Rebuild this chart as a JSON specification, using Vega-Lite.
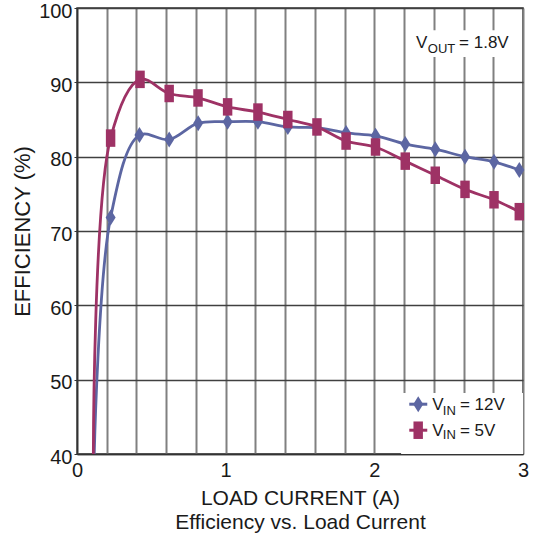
{
  "$schema": "https://vega.github.io/schema/vega-lite/v6.json",
  "width": 446,
  "height": 446,
  "autosize": {"type": "none"},
  "padding": {"left": 77, "top": 8, "right": 13, "bottom": 83},
  "background": "white",
  "config": {
    "view": {"stroke": "#333333", "strokeWidth": 1.5},
    "font": "Liberation Sans"
  },
  "datasets": {
    "eff": [
      {"series": "12V", "current": 0.116, "eff": 40},
      {"series": "12V", "current": 0.226, "eff": 71.8},
      {"series": "12V", "current": 0.42, "eff": 82.9},
      {"series": "12V", "current": 0.62, "eff": 82.3},
      {"series": "12V", "current": 0.815, "eff": 84.5},
      {"series": "12V", "current": 1.013, "eff": 84.7},
      {"series": "12V", "current": 1.217, "eff": 84.7},
      {"series": "12V", "current": 1.418, "eff": 84.0},
      {"series": "12V", "current": 1.614, "eff": 83.9},
      {"series": "12V", "current": 1.81, "eff": 83.2},
      {"series": "12V", "current": 2.008, "eff": 82.8},
      {"series": "12V", "current": 2.208, "eff": 81.7},
      {"series": "12V", "current": 2.41, "eff": 81.0},
      {"series": "12V", "current": 2.61, "eff": 80.0},
      {"series": "12V", "current": 2.805, "eff": 79.3},
      {"series": "12V", "current": 2.975, "eff": 78.2},
      {"series": "5V", "current": 0.11, "eff": 40},
      {"series": "5V", "current": 0.226, "eff": 82.5},
      {"series": "5V", "current": 0.424, "eff": 90.4},
      {"series": "5V", "current": 0.62, "eff": 88.5},
      {"series": "5V", "current": 0.814, "eff": 87.9},
      {"series": "5V", "current": 1.013, "eff": 86.7},
      {"series": "5V", "current": 1.217, "eff": 86.0},
      {"series": "5V", "current": 1.418, "eff": 85.0},
      {"series": "5V", "current": 1.614, "eff": 84.0},
      {"series": "5V", "current": 1.81, "eff": 82.1},
      {"series": "5V", "current": 2.008, "eff": 81.3},
      {"series": "5V", "current": 2.208, "eff": 79.4},
      {"series": "5V", "current": 2.41, "eff": 77.5},
      {"series": "5V", "current": 2.61, "eff": 75.6},
      {"series": "5V", "current": 2.805, "eff": 74.2},
      {"series": "5V", "current": 2.975, "eff": 72.6}
    ],
    "boxes": [
      {"x1": 2.18, "x2": 3.0, "y1": 40, "y2": 48.2},
      {"x1": 2.24, "x2": 2.88, "y1": 93.4, "y2": 97.0}
    ],
    "legend": [
      {"series": "12V", "x1": 2.235, "x2": 2.356, "xs": 2.295, "y": 46.7},
      {"series": "5V", "x1": 2.235, "x2": 2.356, "xs": 2.295, "y": 43.2}
    ],
    "mainText": [
      {"x": 2.28, "y": 94.6, "t": "V"},
      {"x": 2.57, "y": 94.6, "t": "= 1.8V"},
      {"x": 2.39, "y": 45.9, "t": "V"},
      {"x": 2.576, "y": 45.9, "t": "= 12V"},
      {"x": 2.39, "y": 42.4, "t": "V"},
      {"x": 2.576, "y": 42.4, "t": "= 5V"}
    ],
    "subText": [
      {"x": 2.36, "y": 93.9, "t": "OUT"},
      {"x": 2.461, "y": 45.2, "t": "IN"},
      {"x": 2.461, "y": 42.0, "t": "IN"}
    ]
  },
  "layer": [
    {
      "data": {"name": "boxes"},
      "mark": {"type": "rect", "color": "white"},
      "encoding": {
        "x": {
          "field": "x1", "type": "quantitative",
          "scale": {"domain": [0, 3], "nice": false, "zero": false},
          "axis": {
            "tickCount": 15,
            "labelExpr": "abs(datum.value - round(datum.value)) < 0.001 ? format(datum.value, 'd') : ''",
            "labelFlush": false,
            "labelOverlap": false,
            "grid": true,
            "gridColor": "#808080",
            "gridWidth": 2,
            "domainColor": "#333333",
            "domainWidth": 1.5,
            "ticks": false,
            "labelFontSize": 20,
            "labelColor": "#1a1a1a",
            "labelPadding": 6,
            "title": ["LOAD CURRENT (A)", "Efficiency vs. Load Current"],
            "titleFontSize": 21,
            "titleFontWeight": "normal",
            "titleColor": "#1a1a1a",
            "titlePadding": 7,
            "titleLineHeight": 24
          }
        },
        "x2": {"field": "x2"},
        "y": {
          "field": "y1", "type": "quantitative",
          "scale": {"domain": [40, 100], "nice": false, "zero": false},
          "axis": {
            "tickCount": 6,
            "grid": true,
            "gridColor": "#404040",
            "gridWidth": 1.5,
            "domainColor": "#333333",
            "domainWidth": 1.5,
            "ticks": true,
            "tickSize": 3,
            "tickColor": "#333333",
            "labelFontSize": 20,
            "labelColor": "#1a1a1a",
            "labelPadding": 2,
            "labelOffset": 3,
            "labelOverlap": false,
            "title": "EFFICIENCY (%)",
            "titleFontSize": 22,
            "titleFontWeight": "normal",
            "titleColor": "#1a1a1a",
            "titlePadding": 4
          }
        },
        "y2": {"field": "y2"}
      }
    },
    {
      "data": {"name": "eff"},
      "mark": {"type": "line", "interpolate": "catmull-rom", "strokeWidth": 2.8, "clip": true},
      "encoding": {
        "x": {"field": "current", "type": "quantitative"},
        "y": {"field": "eff", "type": "quantitative"},
        "color": {"field": "series", "type": "nominal", "scale": {"domain": ["12V", "5V"], "range": ["#5c66a2", "#9e3265"]}, "legend": null}
      }
    },
    {
      "data": {"name": "eff"},
      "transform": [{"filter": "datum.eff > 40"}],
      "mark": {"type": "point", "filled": true, "opacity": 1, "strokeWidth": 0},
      "encoding": {
        "x": {"field": "current", "type": "quantitative"},
        "y": {"field": "eff", "type": "quantitative"},
        "color": {"field": "series", "type": "nominal", "legend": null},
        "shape": {"field": "series", "type": "nominal", "scale": {"domain": ["12V", "5V"], "range": ["M0,-1L0.625,0L0,1L-0.625,0Z", "M-0.54,-1H0.54V1H-0.54Z"]}, "legend": null},
        "size": {"field": "series", "type": "ordinal", "scale": {"domain": ["12V", "5V"], "range": [256, 306]}, "legend": null}
      }
    },
    {
      "data": {"name": "legend"},
      "mark": {"type": "rule", "strokeWidth": 3},
      "encoding": {
        "x": {"field": "x1", "type": "quantitative"},
        "x2": {"field": "x2"},
        "y": {"field": "y", "type": "quantitative"},
        "color": {"field": "series", "type": "nominal", "legend": null}
      }
    },
    {
      "data": {"name": "legend"},
      "mark": {"type": "point", "filled": true, "opacity": 1, "strokeWidth": 0},
      "encoding": {
        "x": {"field": "xs", "type": "quantitative"},
        "y": {"field": "y", "type": "quantitative"},
        "color": {"field": "series", "type": "nominal", "legend": null},
        "shape": {"field": "series", "type": "nominal", "legend": null},
        "size": {"field": "series", "type": "ordinal", "legend": null}
      }
    },
    {
      "data": {"name": "mainText"},
      "mark": {"type": "text", "align": "left", "baseline": "alphabetic", "fontSize": 17, "color": "#1a1a1a"},
      "encoding": {
        "x": {"field": "x", "type": "quantitative"},
        "y": {"field": "y", "type": "quantitative"},
        "text": {"field": "t"}
      }
    },
    {
      "data": {"name": "subText"},
      "mark": {"type": "text", "align": "left", "baseline": "alphabetic", "fontSize": 13, "color": "#1a1a1a"},
      "encoding": {
        "x": {"field": "x", "type": "quantitative"},
        "y": {"field": "y", "type": "quantitative"},
        "text": {"field": "t"}
      }
    }
  ]
}
